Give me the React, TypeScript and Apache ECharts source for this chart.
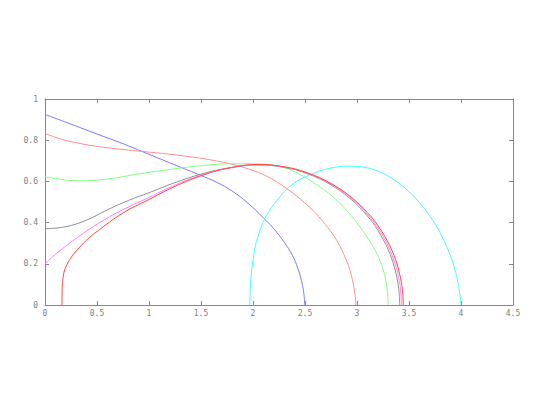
import React, { useEffect, useRef } from "react";
import * as echarts from "echarts";

const xTicks = [0, 0.5, 1, 1.5, 2, 2.5, 3, 3.5, 4, 4.5];
const yTicks = [0, 0.2, 0.4, 0.6, 0.8, 1];

const blueCurve: [number, number][] = [
  [0, 0.925], [0.25, 0.878], [0.5, 0.83], [0.75, 0.783], [0.94, 0.744], [1.2, 0.69],
  [1.488, 0.631], [1.65, 0.596], [1.8, 0.553], [1.95, 0.495], [2.1, 0.423], [2.2, 0.37],
  [2.3, 0.305], [2.38, 0.24], [2.43, 0.18], [2.465, 0.12], [2.485, 0.07], [2.494, 0.03],
  [2.497, 0],
];
const pinkCurve: [number, number][] = [
  [0, 0.832], [0.125, 0.81], [0.25, 0.793], [0.5, 0.77], [0.75, 0.755], [0.94, 0.745],
  [1.2, 0.732], [1.488, 0.713], [1.65, 0.699], [1.808, 0.682], [1.97, 0.658], [2.129, 0.626],
  [2.32, 0.567], [2.45, 0.516], [2.545, 0.474], [2.63, 0.43], [2.72, 0.375], [2.8, 0.318],
  [2.87, 0.25], [2.93, 0.172], [2.963, 0.105], [2.981, 0.05], [2.99, 0],
];
const greenCurve: [number, number][] = [
  [0, 0.622], [0.2, 0.607], [0.365, 0.603], [0.6, 0.612], [0.912, 0.637], [1.2, 0.658],
  [1.5, 0.676], [1.8, 0.686], [2.1, 0.684], [2.3, 0.667], [2.45, 0.634], [2.6, 0.588],
  [2.77, 0.525], [2.95, 0.43], [3.09, 0.335], [3.18, 0.26], [3.24, 0.19], [3.275, 0.125],
  [3.293, 0.06], [3.3, 0],
];
const grayCurve: [number, number][] = [
  [0, 0.37], [0.2, 0.38], [0.4, 0.412], [0.6, 0.462], [0.8, 0.507], [1.0, 0.545],
  [1.25, 0.594], [1.5, 0.635], [1.75, 0.664], [2.05, 0.68], [2.3, 0.668], [2.52, 0.638],
  [2.75, 0.583], [2.95, 0.51], [3.1, 0.432], [3.2, 0.363], [3.3, 0.268], [3.36, 0.183],
  [3.39, 0.116], [3.405, 0.06], [3.41, 0],
];
const magentaCurve: [number, number][] = [
  [0, 0.2], [0.1, 0.245], [0.25, 0.305], [0.5, 0.392], [0.75, 0.463], [1.0, 0.522],
  [1.25, 0.582], [1.5, 0.63], [1.75, 0.663], [2.05, 0.681], [2.3, 0.67], [2.52, 0.641],
  [2.75, 0.587], [2.95, 0.516], [3.1, 0.441], [3.2, 0.375], [3.3, 0.286], [3.37, 0.194],
  [3.4, 0.135], [3.418, 0.079], [3.427, 0],
];
const redCurve: [number, number][] = [
  [0.163, 0], [0.164, 0.05], [0.167, 0.1], [0.176, 0.14], [0.19, 0.172], [0.238, 0.221],
  [0.3, 0.262], [0.4, 0.315], [0.5, 0.357], [0.75, 0.447], [1.0, 0.512], [1.25, 0.576],
  [1.5, 0.627], [1.75, 0.663], [2.05, 0.682], [2.3, 0.671], [2.52, 0.642], [2.75, 0.59],
  [2.95, 0.521], [3.1, 0.449], [3.2, 0.386], [3.3, 0.303], [3.37, 0.221], [3.41, 0.151],
  [3.43, 0.1], [3.44, 0.058], [3.445, 0],
];
const cyanCurve: [number, number][] = [
  [1.97, 0], [1.972, 0.06], [1.98, 0.13], [1.995, 0.2], [2.02, 0.28], [2.05, 0.335],
  [2.1, 0.405], [2.16, 0.46], [2.23, 0.508], [2.33, 0.565], [2.45, 0.608], [2.6, 0.643],
  [2.75, 0.665], [2.9, 0.674], [3.05, 0.67], [3.2, 0.65], [3.35, 0.61], [3.5, 0.55],
  [3.62, 0.485], [3.73, 0.41], [3.82, 0.33], [3.89, 0.25], [3.94, 0.175], [3.97, 0.11],
  [3.99, 0.05], [4.0, 0],
];

const curves: { data: [number, number][]; color: string }[] = [
  { data: blueCurve, color: "#7a7aff" },
  { data: pinkCurve, color: "#ff8f8f" },
  { data: greenCurve, color: "#80ff80" },
  { data: cyanCurve, color: "#40ffff" },
  { data: grayCurve, color: "#909090" },
  { data: magentaCurve, color: "#ff80ff" },
  { data: redCurve, color: "#ff4a3a" },
];

function fmt(list: number[]) {
  return (v: number) => String(list.find((t) => Math.abs(t - v) < 1e-6) ?? v);
}

export default function App() {
  const ref = useRef<HTMLDivElement>(null);
  useEffect(() => {
    if (!ref.current) return;
    const chart = echarts.init(ref.current, undefined, { renderer: "svg" });
    const labelStyle = () => ({
      fontSize: 8,
      fontFamily: "DejaVu Sans Mono",
      color: "#808080",
    });
    const axisLine = () => ({ show: true, onZero: false, lineStyle: { color: "#888", width: 1 } });
    const tick = () => ({ show: true, inside: true, length: 4, lineStyle: { color: "#888", width: 1 } });
    chart.setOption({
      animation: false,
      backgroundColor: "#fff",
      grid: { left: 45, right: 32, top: 99, bottom: 104, containLabel: false },
      xAxis: [
        {
          type: "value", min: 0, max: 4.5, interval: 0.5, position: "bottom",
          axisLine: axisLine(), axisTick: tick(), splitLine: { show: false },
          axisLabel: { ...labelStyle(), margin: 4, formatter: fmt(xTicks) },
        },
        {
          type: "value", min: 0, max: 4.5, interval: 0.5, position: "top",
          axisLine: axisLine(), axisTick: tick(), splitLine: { show: false }, axisLabel: { show: false },
        },
      ],
      yAxis: [
        {
          type: "value", min: 0, max: 1, interval: 0.2, position: "left",
          axisLine: axisLine(), axisTick: tick(), splitLine: { show: false },
          axisLabel: { ...labelStyle(), margin: 7, formatter: fmt(yTicks) },
        },
        {
          type: "value", min: 0, max: 1, interval: 0.2, position: "right",
          axisLine: axisLine(), axisTick: tick(), splitLine: { show: false }, axisLabel: { show: false },
        },
      ],
      series: curves.map((c) => ({
        type: "line",
        data: c.data,
        showSymbol: false,
        smooth: 0.4,
        lineStyle: { color: c.color, width: 1 },
        itemStyle: { color: c.color },
      })),
    });
    return () => chart.dispose();
  }, []);
  return (
    <div
      ref={ref}
      style={{ position: "fixed", left: 0, top: 0, width: 545, height: 409, background: "#fff" }}
    />
  );
}
